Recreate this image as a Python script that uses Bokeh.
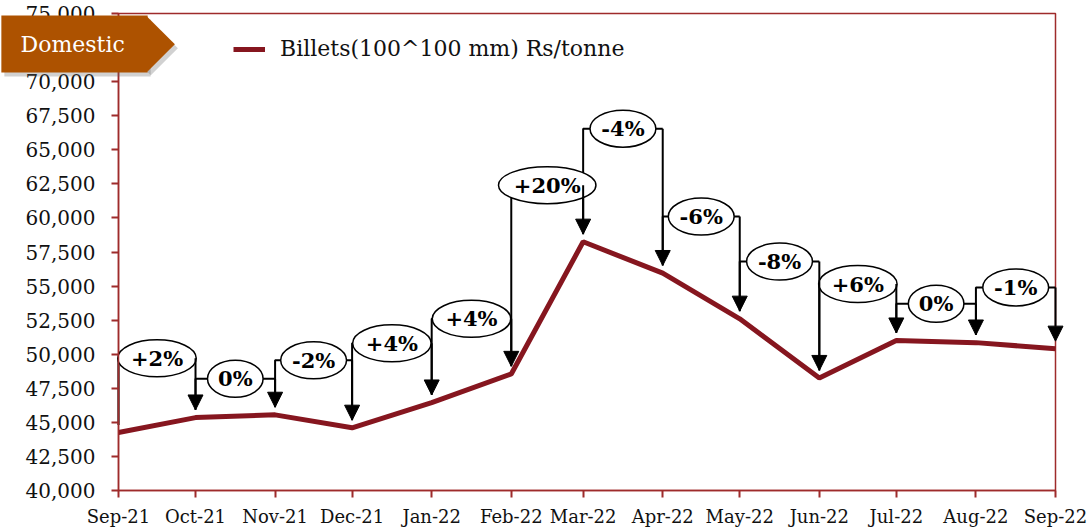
import pandas as pd
from bokeh.plotting import figure
from bokeh.models import (Range1d, FixedTicker, NumeralTickFormatter, ColumnDataSource,
                          Arrow, NormalHead, Label, Legend, LegendItem, BoxAnnotation)
from bokeh.core.properties import value
from bokeh.embed import file_html
from bokeh.resources import INLINE

# ---------------- data ----------------
months = ["2021-09-01", "2021-10-01", "2021-11-01", "2021-12-01", "2022-01-01", "2022-02-01",
          "2022-03-01", "2022-04-01", "2022-05-01", "2022-06-01", "2022-07-01", "2022-08-01",
          "2022-09-01"]
month_labels = ["Sep-21", "Oct-21", "Nov-21", "Dec-21", "Jan-22", "Feb-22", "Mar-22",
                "Apr-22", "May-22", "Jun-22", "Jul-22", "Aug-22", "Sep-22"]
billets = [44250, 45350, 45550, 44600, 46450, 48550, 58250, 55950, 52600, 48250, 51000,
           50850, 50400]
change_labels = ["+2%", "0%", "-2%", "+4%", "+4%", "+20%", "-4%", "-6%", "-8%", "+6%",
                 "0%", "-1%"]
# level (in Rs/tonne) at which each change bubble sits
bubble_levels = [49700, 48200, 49550, 50800, 52600, 62400, 66550, 60100, 56800, 55150,
                 53700, 54900]
y_ticks = list(range(40000, 75001, 2500))
y_min, y_max = 40000, 75000

series_name = "Billets(100^100 mm) Rs/tonne"
tag_text = "Domestic"

# ---------------- layout ----------------
W, H = 1089, 529
PX_L, PX_R, PX_T, PX_B = 118, 1055, 13, 490   # where the chart box sits on the canvas

t0 = pd.Timestamp(months[0])
xdays = [(pd.Timestamp(m) - t0).days for m in months]
x_min, x_max = xdays[0], xdays[-1]
sx = (x_max - x_min) / (PX_R - PX_L)
sy = (y_max - y_min) / (PX_B - PX_T)
xr = Range1d(x_min - PX_L * sx, x_max + (W - PX_R) * sx)
yr = Range1d(y_min - (H - PX_B) * sy, y_max + PX_T * sy)

SERIF = "DejaVu Serif"
AXIS_RED = "#9E2B2B"
LINE_RED = "#86161F"
TAG = "#AD5200"

p = figure(width=W, height=H, output_backend="svg", toolbar_location=None,
           x_range=xr, y_range=yr, min_border=0)
p.background_fill_color = "white"
p.border_fill_color = "white"
p.outline_line_color = None
p.grid.visible = False

# axes (drawn at the chart box's edges)
p.xaxis.fixed_location = y_min
p.yaxis.fixed_location = x_min
p.xaxis.bounds = (x_min, x_max)
p.yaxis.bounds = (y_min, y_max)
p.xaxis.ticker = FixedTicker(ticks=xdays)
p.xaxis.major_label_overrides = {d: lab for d, lab in zip(xdays, month_labels)}
p.yaxis.ticker = FixedTicker(ticks=y_ticks)
p.yaxis.formatter = NumeralTickFormatter(format="0,0")
for ax in (p.xaxis, p.yaxis):
    ax.axis_line_color = AXIS_RED
    ax.axis_line_width = 1.5
    ax.major_tick_line_color = AXIS_RED
    ax.major_tick_line_width = 2
    ax.major_tick_in = 0
    ax.major_tick_out = 7
    ax.minor_tick_line_color = None
    ax.major_label_text_font = SERIF
    ax.major_label_text_color = "#111111"
p.xaxis.major_label_text_font_size = "18px"
p.yaxis.major_label_text_font_size = "20px"
p.xaxis.major_label_standoff = 8
p.yaxis.major_label_standoff = 16

# chart box (top and right edges)
p.add_layout(BoxAnnotation(left=x_min, right=x_max, bottom=y_min, top=y_max,
                           fill_alpha=0, line_color=AXIS_RED, line_alpha=1.0,
                           line_width=1.5, level="underlay"))

# connectors (elbows) and arrows
gap = 0.016 * (y_max - y_min)
xs, ys, mids = [], [], []
ax_x, ay0, ay1 = [], [], []
for i in range(len(change_labels)):
    x0, x1 = xdays[i], xdays[i + 1]
    lv = bubble_levels[i]
    xs.append([x0, x0, x1])
    ys.append([billets[i] + gap, lv, lv])
    mids.append((x0 + x1) / 2)
    ax_x.append(x1)
    ay0.append(lv)
    ay1.append(billets[i + 1] + gap)

p.multi_line(xs=xs, ys=ys, line_color="black", line_width=2)
arrow_src = ColumnDataSource(dict(x=ax_x, y0=ay0, y1=ay1))
p.add_layout(Arrow(source=arrow_src, x_start="x", y_start="y0", x_end="x", y_end="y1",
                   line_color="black", line_width=2,
                   end=NormalHead(size=15, fill_color="black", line_color="black")))

# series line
line_r = p.line(xdays, billets, line_color=LINE_RED, line_width=5)

# bubbles
cw = {"+": 17.6, "-": 7.9, "%": 22}
widths = [8 + 1.3 * sum(cw.get(c, 14.6) for c in lab) for lab in change_labels]
bub = ColumnDataSource(dict(x=mids, y=bubble_levels, w=widths, t=change_labels))
p.ellipse(x="x", y="y", width="w", height=37, width_units="screen", height_units="screen",
          source=bub, fill_color="white", line_color="black", line_width=1.5)
p.text(x="x", y="y", text="t", source=bub, text_align="center", text_baseline="middle",
       text_font=value(SERIF), text_font_style="bold", text_font_size="21px",
       text_color="black")

# legend
legend = Legend(items=[LegendItem(label=series_name, renderers=[line_r])],
                location=(233, 468), padding=0, margin=0, spacing=0,
                glyph_width=32, glyph_height=22, label_height=22, label_standoff=15,
                label_text_font=SERIF, label_text_font_size="22px",
                label_text_color="#111111",
                border_line_color=None, background_fill_alpha=0)
p.add_layout(legend)

# "Domestic" tag (canvas coordinates): box + rotated square for the arrow point
def tag_parts(dx, dy, color, alpha):
    box = Label(x=74 + dx, y=43.5 + dy, x_units="canvas", y_units="canvas", text=" ",
                text_font_size="1px", text_align="center", text_baseline="middle",
                padding=dict(left=73, right=73, top=28, bottom=28),
                background_fill_color=color, background_fill_alpha=alpha)
    tip = Label(x=147 + dx, y=43.5 + dy, x_units="canvas", y_units="canvas", text=" ",
                text_font_size="1px", text_align="center", text_baseline="middle",
                padding=19, angle=45, angle_units="deg",
                background_fill_color=color, background_fill_alpha=alpha)
    return [tip, box]

for r in tag_parts(3, 4, "#666666", 0.3) + tag_parts(0, 0, TAG, 1.0):
    p.add_layout(r)
p.add_layout(Label(x=20, y=43.5, x_units="canvas", y_units="canvas", text=tag_text,
                   text_color="white", text_font=SERIF, text_font_size="22px",
                   text_baseline="middle", text_align="left"))

open("out.html", "w").write(file_html(p, INLINE))
